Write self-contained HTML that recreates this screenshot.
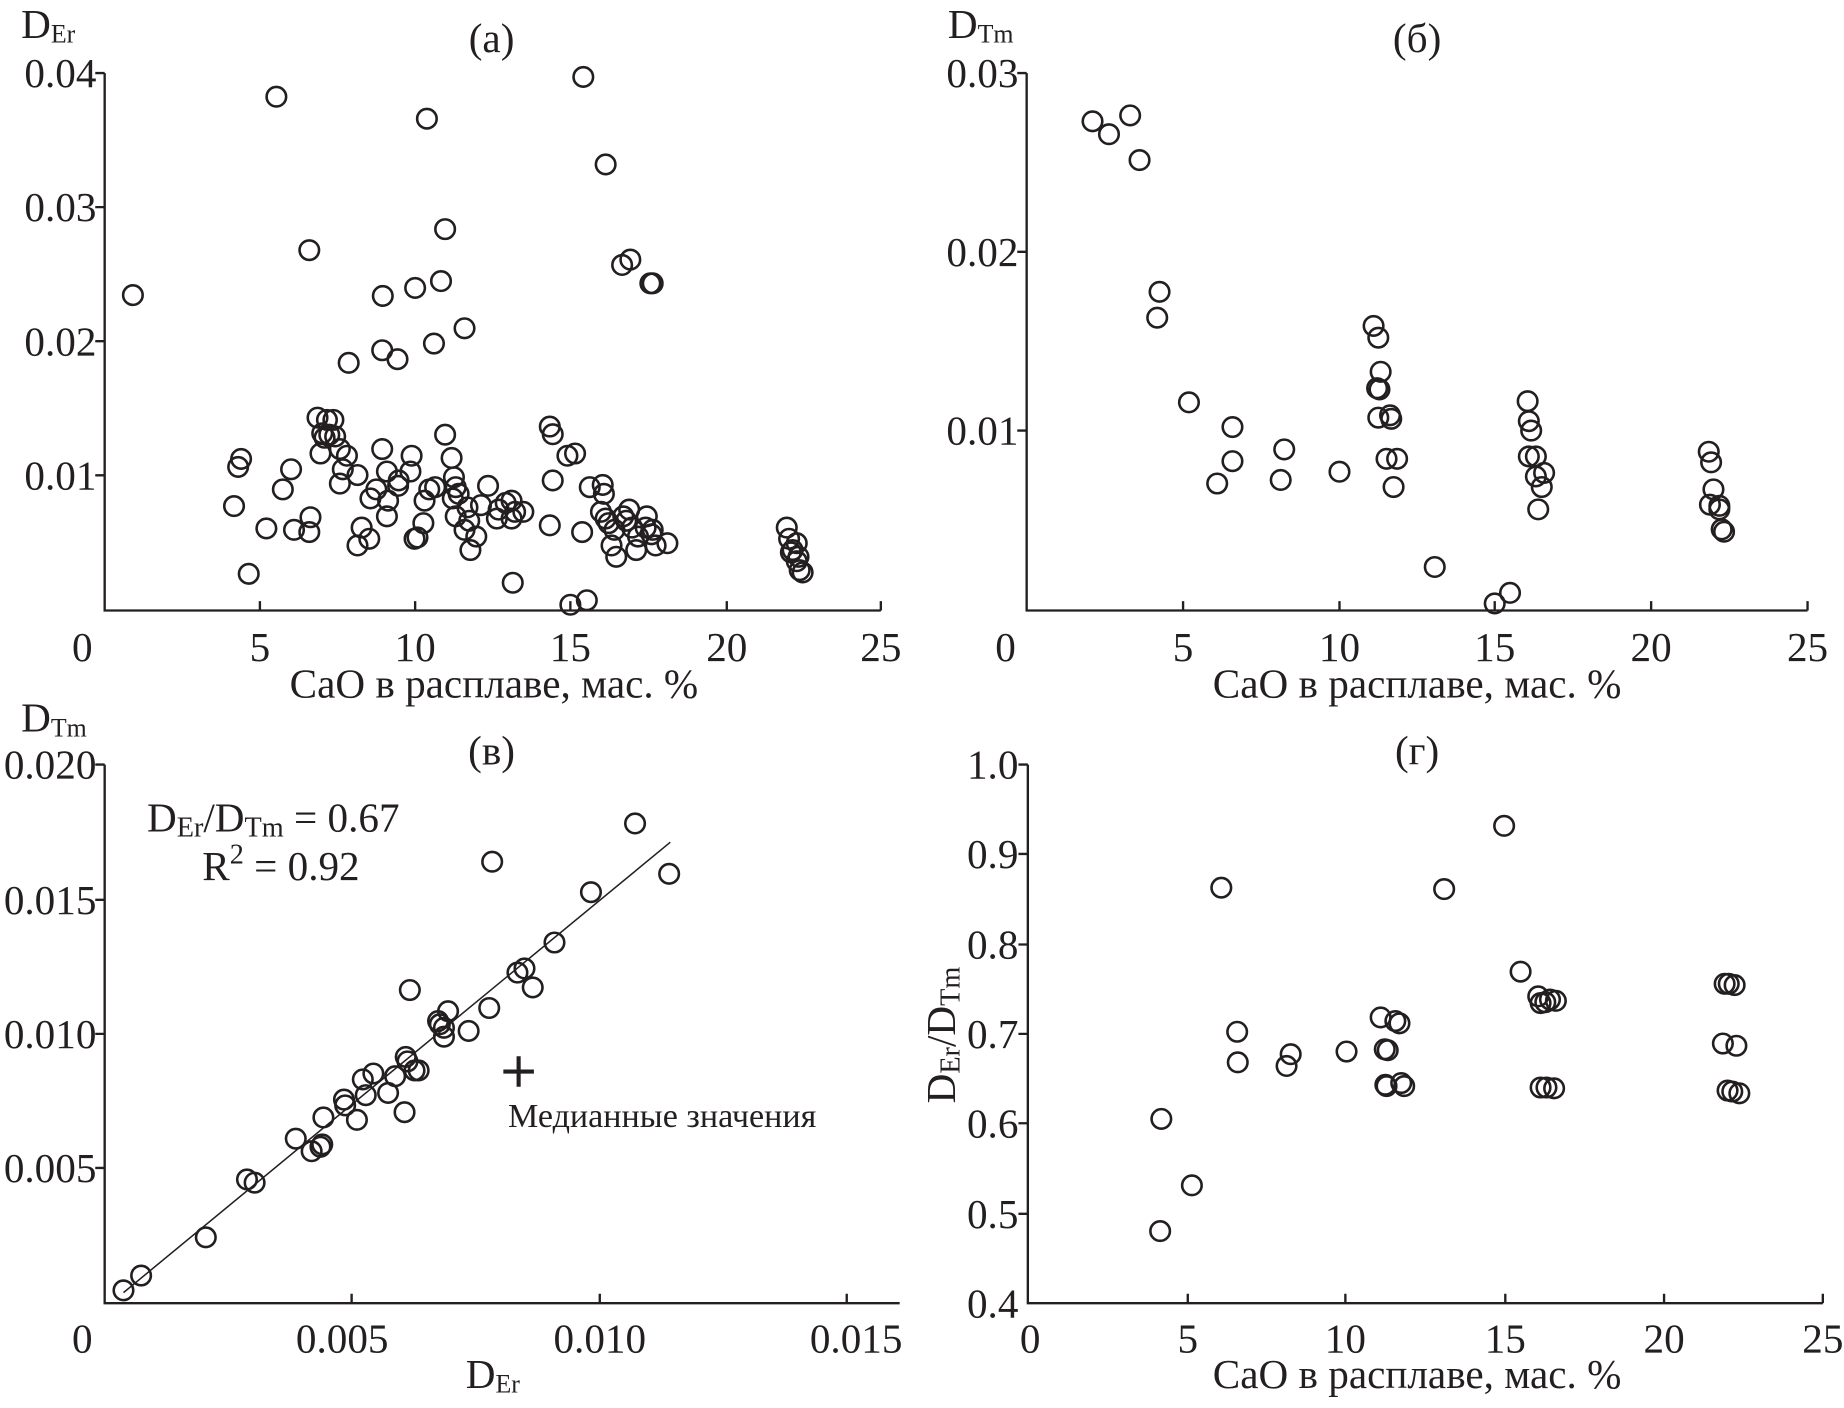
<!DOCTYPE html>
<html><head><meta charset="utf-8"><style>html,body{margin:0;padding:0;background:#fff}svg{display:block}</style></head>
<body>
<svg width="1844" height="1408" viewBox="0 0 1568 1197" xmlns="http://www.w3.org/2000/svg" font-family="Liberation Serif, serif" fill="#231f20">
<g stroke="#231f20" stroke-width="2" fill="none">
<path d="M89 62V519H749M89 62h-8M89 176h-8M89 290h-8M89 404h-8M221 519v-8M353 519v-8M485 519v-8M618 519v-8M749 519v-8"/>
<path d="M873 62V519H1537M873 62h-8M873 214h-8M873 366h-8M1006 519v-8M1139 519v-8M1271 519v-8M1404 519v-8M1537 519v-8"/>
<path d="M89 650V1108H765M89 650h-8M89 765h-8M89 879h-8M89 993h-8M299 1108v-8M510 1108v-8M720 1108v-8"/>
<path d="M874 650V1108H1550M874 650h-8M874 726h-8M874 803h-8M874 879h-8M874 955h-8M874 1032h-8M1010 1108v-8M1144 1108v-8M1280 1108v-8M1415 1108v-8M1550 1108v-8"/>
<path d="M105 1099L570 716" stroke-width="1.3"/>
<path d="M441 898v26M428 911h26" stroke-width="3.5"/>
</g>
<g font-size="35">
<g text-anchor="end">
<text x="82" y="74">0.04</text><text x="82" y="188">0.03</text><text x="82" y="302">0.02</text><text x="82" y="416">0.01</text>
<text x="866" y="74">0.03</text><text x="866" y="226">0.02</text><text x="866" y="378">0.01</text>
<text x="82" y="662">0.020</text><text x="82" y="777">0.015</text><text x="82" y="891">0.010</text><text x="82" y="1005">0.005</text>
<text x="866" y="662">1.0</text><text x="866" y="738">0.9</text><text x="866" y="815">0.8</text><text x="866" y="891">0.7</text><text x="866" y="967">0.6</text><text x="866" y="1044">0.5</text><text x="866" y="1120">0.4</text>
</g>
<g text-anchor="middle"><text x="70" y="562">0</text><text x="221" y="562">5</text><text x="353" y="562">10</text><text x="485" y="562">15</text><text x="618" y="562">20</text><text x="749" y="562">25</text>
<text x="420" y="593">CaO в расплаве, мас. %</text><text x="418" y="44">(a)</text>
<text x="855" y="562">0</text><text x="1006" y="562">5</text><text x="1139" y="562">10</text><text x="1271" y="562">15</text><text x="1404" y="562">20</text><text x="1537" y="562">25</text>
<text x="1205" y="593">CaO в расплаве, мас. %</text><text x="1205" y="44">(б)</text>
<text x="70" y="1150">0</text><text x="291" y="1150">0.005</text><text x="510" y="1150">0.010</text><text x="728" y="1150">0.015</text>
<text x="418" y="650">(в)</text>
<text x="876" y="1150">0</text><text x="1010" y="1150">5</text><text x="1144" y="1150">10</text><text x="1280" y="1150">15</text><text x="1415" y="1150">20</text><text x="1550" y="1150">25</text>
<text x="1205" y="1180">CaO в расплаве, мас. %</text><text x="1205" y="650">(г)</text>
</g>
<text x="18" y="32">D<tspan font-size="22" dy="4">Er</tspan></text>
<text x="806" y="32">D<tspan font-size="22" dy="4">Tm</tspan></text>
<text x="18" y="622">D<tspan font-size="22" dy="4">Tm</tspan></text>
<text x="396" y="1180">D<tspan font-size="22" dy="4">Er</tspan></text>
<text x="125" y="707">D<tspan font-size="24" dy="4">Er</tspan><tspan dy="-4">/D</tspan><tspan font-size="24" dy="4">Tm</tspan><tspan dy="-4"> = 0.67</tspan></text>
<text x="172" y="748">R<tspan font-size="24" dy="-14">2</tspan><tspan dy="14"> = 0.92</tspan></text>
<text transform="translate(812,880) rotate(-90)" text-anchor="middle">D<tspan font-size="24" dy="4">Er</tspan><tspan dy="-4">/D</tspan><tspan font-size="24" dy="4">Tm</tspan></text>
</g>
<text x="432" y="958" font-size="29">Медианные значения</text>
<g stroke="#231f20" stroke-width="2.2" fill="none">
<circle cx="113" cy="250.8" r="8.3"/><circle cx="235" cy="82.1" r="8.3"/><circle cx="363" cy="100.8" r="8.3"/><circle cx="496" cy="65.3" r="8.3"/><circle cx="515" cy="139.7" r="8.3"/><circle cx="263" cy="212.6" r="8.3"/><circle cx="378.5" cy="194.7" r="8.3"/><circle cx="375" cy="238.9" r="8.3"/><circle cx="353" cy="244.7" r="8.3"/><circle cx="325.5" cy="251.5" r="8.3"/><circle cx="529" cy="225.2" r="8.3"/><circle cx="536" cy="220.6" r="8.3"/><circle cx="553" cy="240.8" r="8.3"/><circle cx="555" cy="240.8" r="8.3"/><circle cx="395" cy="279" r="8.3"/><circle cx="369" cy="292" r="8.3"/><circle cx="325" cy="297.7" r="8.3"/><circle cx="338" cy="305.3" r="8.3"/><circle cx="296.5" cy="308.4" r="8.3"/><circle cx="270" cy="355" r="8.3"/><circle cx="278" cy="356.9" r="8.3"/><circle cx="283.5" cy="356.9" r="8.3"/><circle cx="274" cy="368.3" r="8.3"/><circle cx="276" cy="372.1" r="8.3"/><circle cx="280" cy="369.5" r="8.3"/><circle cx="285" cy="371" r="8.3"/><circle cx="272.5" cy="385.5" r="8.3"/><circle cx="289" cy="381.7" r="8.3"/><circle cx="295" cy="387.4" r="8.3"/><circle cx="291.5" cy="398.9" r="8.3"/><circle cx="304" cy="403.8" r="8.3"/><circle cx="289" cy="411.1" r="8.3"/><circle cx="202.5" cy="396.9" r="8.3"/><circle cx="205" cy="390.1" r="8.3"/><circle cx="199" cy="430.2" r="8.3"/><circle cx="226.5" cy="449.2" r="8.3"/><circle cx="240.5" cy="416" r="8.3"/><circle cx="247.5" cy="398.9" r="8.3"/><circle cx="250" cy="450.4" r="8.3"/><circle cx="264" cy="439.7" r="8.3"/><circle cx="263" cy="452.3" r="8.3"/><circle cx="211.5" cy="487.8" r="8.3"/><circle cx="307.5" cy="448.5" r="8.3"/><circle cx="304" cy="463.7" r="8.3"/><circle cx="314" cy="458" r="8.3"/><circle cx="315" cy="423.7" r="8.3"/><circle cx="320" cy="416" r="8.3"/><circle cx="325" cy="381.7" r="8.3"/><circle cx="329" cy="400.8" r="8.3"/><circle cx="330" cy="425.6" r="8.3"/><circle cx="329" cy="438.9" r="8.3"/><circle cx="339" cy="408.4" r="8.3"/><circle cx="338.5" cy="413" r="8.3"/><circle cx="350" cy="387.4" r="8.3"/><circle cx="349" cy="400.8" r="8.3"/><circle cx="352.5" cy="458" r="8.3"/><circle cx="355" cy="456.9" r="8.3"/><circle cx="360" cy="444.7" r="8.3"/><circle cx="361" cy="425.6" r="8.3"/><circle cx="365" cy="416" r="8.3"/><circle cx="370" cy="414.1" r="8.3"/><circle cx="378.5" cy="369.5" r="8.3"/><circle cx="384" cy="389.3" r="8.3"/><circle cx="386" cy="405.7" r="8.3"/><circle cx="387.5" cy="414.1" r="8.3"/><circle cx="390" cy="419.8" r="8.3"/><circle cx="385" cy="423.7" r="8.3"/><circle cx="387.5" cy="438.9" r="8.3"/><circle cx="395" cy="450.4" r="8.3"/><circle cx="397.5" cy="431.3" r="8.3"/><circle cx="399" cy="442.7" r="8.3"/><circle cx="405" cy="456.1" r="8.3"/><circle cx="400" cy="467.6" r="8.3"/><circle cx="415" cy="413" r="8.3"/><circle cx="409" cy="429.4" r="8.3"/><circle cx="424" cy="433.2" r="8.3"/><circle cx="422.5" cy="440.8" r="8.3"/><circle cx="430" cy="427.5" r="8.3"/><circle cx="435" cy="425.6" r="8.3"/><circle cx="438" cy="435.1" r="8.3"/><circle cx="435" cy="440.8" r="8.3"/><circle cx="445" cy="435.1" r="8.3"/><circle cx="436" cy="495.4" r="8.3"/><circle cx="467.5" cy="362.6" r="8.3"/><circle cx="470" cy="369.1" r="8.3"/><circle cx="470" cy="408.4" r="8.3"/><circle cx="467.5" cy="446.6" r="8.3"/><circle cx="482.5" cy="387.4" r="8.3"/><circle cx="489" cy="385.5" r="8.3"/><circle cx="495" cy="452.3" r="8.3"/><circle cx="485" cy="514.1" r="8.3"/><circle cx="499" cy="510.3" r="8.3"/><circle cx="501.5" cy="414.1" r="8.3"/><circle cx="512.5" cy="412.2" r="8.3"/><circle cx="513.5" cy="419.8" r="8.3"/><circle cx="511" cy="435.1" r="8.3"/><circle cx="515" cy="440.8" r="8.3"/><circle cx="517.5" cy="444.7" r="8.3"/><circle cx="522.5" cy="450.4" r="8.3"/><circle cx="520" cy="463.7" r="8.3"/><circle cx="524" cy="473.3" r="8.3"/><circle cx="530" cy="438.9" r="8.3"/><circle cx="535" cy="433.2" r="8.3"/><circle cx="532.5" cy="442.7" r="8.3"/><circle cx="537.5" cy="448.5" r="8.3"/><circle cx="542.5" cy="456.1" r="8.3"/><circle cx="541" cy="467.6" r="8.3"/><circle cx="550" cy="438.9" r="8.3"/><circle cx="549" cy="448.5" r="8.3"/><circle cx="555" cy="450.4" r="8.3"/><circle cx="557.5" cy="463.7" r="8.3"/><circle cx="567.5" cy="461.8" r="8.3"/><circle cx="554" cy="454.2" r="8.3"/><circle cx="669" cy="448.5" r="8.3"/><circle cx="671" cy="458" r="8.3"/><circle cx="672.5" cy="469.5" r="8.3"/><circle cx="677.5" cy="461.8" r="8.3"/><circle cx="674" cy="467.6" r="8.3"/><circle cx="677.5" cy="477.1" r="8.3"/><circle cx="679" cy="473.3" r="8.3"/><circle cx="680" cy="484.7" r="8.3"/><circle cx="682.5" cy="486.6" r="8.3"/>
<circle cx="929" cy="103" r="8.3"/><circle cx="943" cy="114" r="8.3"/><circle cx="961" cy="98" r="8.3"/><circle cx="969" cy="136" r="8.3"/><circle cx="986" cy="248" r="8.3"/><circle cx="984" cy="270" r="8.3"/><circle cx="1011" cy="342" r="8.3"/><circle cx="1048" cy="363" r="8.3"/><circle cx="1035" cy="411" r="8.3"/><circle cx="1048" cy="392" r="8.3"/><circle cx="1092" cy="382" r="8.3"/><circle cx="1089" cy="408" r="8.3"/><circle cx="1139" cy="401" r="8.3"/><circle cx="1168" cy="277" r="8.3"/><circle cx="1172" cy="287" r="8.3"/><circle cx="1174" cy="316" r="8.3"/><circle cx="1171" cy="330" r="8.3"/><circle cx="1173" cy="331" r="8.3"/><circle cx="1172" cy="355" r="8.3"/><circle cx="1182" cy="353" r="8.3"/><circle cx="1183" cy="356" r="8.3"/><circle cx="1179" cy="390" r="8.3"/><circle cx="1188" cy="390" r="8.3"/><circle cx="1185" cy="414" r="8.3"/><circle cx="1220" cy="482" r="8.3"/><circle cx="1271" cy="513" r="8.3"/><circle cx="1284" cy="504" r="8.3"/><circle cx="1299" cy="341" r="8.3"/><circle cx="1300" cy="358" r="8.3"/><circle cx="1302" cy="366" r="8.3"/><circle cx="1300" cy="388" r="8.3"/><circle cx="1306" cy="388" r="8.3"/><circle cx="1306" cy="405" r="8.3"/><circle cx="1313" cy="402" r="8.3"/><circle cx="1311" cy="414" r="8.3"/><circle cx="1308" cy="433" r="8.3"/><circle cx="1453" cy="384" r="8.3"/><circle cx="1455" cy="393" r="8.3"/><circle cx="1457" cy="416" r="8.3"/><circle cx="1454" cy="429" r="8.3"/><circle cx="1462" cy="430" r="8.3"/><circle cx="1464" cy="450" r="8.3"/><circle cx="1466" cy="452" r="8.3"/><circle cx="1462" cy="433" r="8.3"/>
<circle cx="105" cy="1097.1" r="8.3"/><circle cx="120" cy="1084.5" r="8.3"/><circle cx="175" cy="1052" r="8.3"/><circle cx="210" cy="1002.8" r="8.3"/><circle cx="216.5" cy="1005.5" r="8.3"/><circle cx="251.5" cy="968.1" r="8.3"/><circle cx="265" cy="978.8" r="8.3"/><circle cx="272.5" cy="975" r="8.3"/><circle cx="274" cy="973" r="8.3"/><circle cx="275" cy="950.1" r="8.3"/><circle cx="292.5" cy="934.9" r="8.3"/><circle cx="293.5" cy="939.8" r="8.3"/><circle cx="303.5" cy="952.1" r="8.3"/><circle cx="308.5" cy="917.7" r="8.3"/><circle cx="311" cy="931.1" r="8.3"/><circle cx="317.5" cy="912.7" r="8.3"/><circle cx="330" cy="929.2" r="8.3"/><circle cx="336" cy="915" r="8.3"/><circle cx="344" cy="945.6" r="8.3"/><circle cx="345" cy="898.6" r="8.3"/><circle cx="346.5" cy="902.4" r="8.3"/><circle cx="348.5" cy="841.7" r="8.3"/><circle cx="352.5" cy="910.1" r="8.3"/><circle cx="356" cy="910.1" r="8.3"/><circle cx="372.5" cy="868.1" r="8.3"/><circle cx="374" cy="870.8" r="8.3"/><circle cx="377.5" cy="873.8" r="8.3"/><circle cx="381" cy="859.7" r="8.3"/><circle cx="377.5" cy="881.4" r="8.3"/><circle cx="398.5" cy="876.5" r="8.3"/><circle cx="416" cy="857" r="8.3"/><circle cx="418.5" cy="732.6" r="8.3"/><circle cx="440" cy="826.9" r="8.3"/><circle cx="446" cy="823.4" r="8.3"/><circle cx="453" cy="839.5" r="8.3"/><circle cx="471.5" cy="801.3" r="8.3"/><circle cx="502.5" cy="758.5" r="8.3"/><circle cx="540" cy="700.1" r="8.3"/><circle cx="569" cy="742.9" r="8.3"/>
<circle cx="987.5" cy="951.3" r="8.3"/><circle cx="986.5" cy="1046.7" r="8.3"/><circle cx="1013.5" cy="1007.8" r="8.3"/><circle cx="1038.5" cy="754.7" r="8.3"/><circle cx="1052" cy="877.2" r="8.3"/><circle cx="1052.5" cy="903.2" r="8.3"/><circle cx="1094" cy="906.3" r="8.3"/><circle cx="1097.5" cy="896.3" r="8.3"/><circle cx="1145" cy="894" r="8.3"/><circle cx="1174" cy="865" r="8.3"/><circle cx="1177.5" cy="892.1" r="8.3"/><circle cx="1180" cy="892.9" r="8.3"/><circle cx="1178" cy="922.3" r="8.3"/><circle cx="1179" cy="923.4" r="8.3"/><circle cx="1186.5" cy="868.1" r="8.3"/><circle cx="1190" cy="870" r="8.3"/><circle cx="1191.5" cy="920.8" r="8.3"/><circle cx="1194" cy="923.4" r="8.3"/><circle cx="1228" cy="755.9" r="8.3"/><circle cx="1279" cy="702.1" r="8.3"/><circle cx="1293" cy="826.1" r="8.3"/><circle cx="1308" cy="847.1" r="8.3"/><circle cx="1310" cy="852.8" r="8.3"/><circle cx="1314" cy="852.1" r="8.3"/><circle cx="1318" cy="849.8" r="8.3"/><circle cx="1323" cy="850.9" r="8.3"/><circle cx="1310" cy="924.6" r="8.3"/><circle cx="1315" cy="924.6" r="8.3"/><circle cx="1321.5" cy="925.3" r="8.3"/><circle cx="1466.5" cy="836.4" r="8.3"/><circle cx="1470" cy="836.4" r="8.3"/><circle cx="1475" cy="837.5" r="8.3"/><circle cx="1465" cy="887.2" r="8.3"/><circle cx="1476.5" cy="889.1" r="8.3"/><circle cx="1469" cy="927.2" r="8.3"/><circle cx="1473" cy="928" r="8.3"/><circle cx="1479" cy="929.5" r="8.3"/>
</g>
</svg>
</body></html>
